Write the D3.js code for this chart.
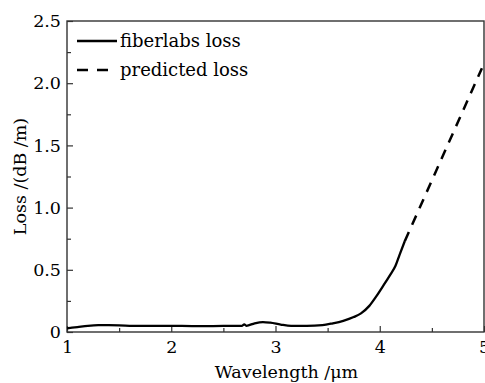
<!DOCTYPE html>
<html><head><meta charset="utf-8">
<script src="https://cdn.jsdelivr.net/npm/d3@7"></script>
<style>body{margin:0;background:#fff}svg{display:block}</style>
</head><body>
<script>
const measuredWl = [1.0,1.1,1.2,1.3,1.4,1.6,1.8,2.0,2.2,2.4,2.6,2.68,2.7,2.72,2.8,2.88,2.95,3.05,3.15,3.3,3.45,3.55,3.65,3.75,3.82,3.9,3.97,4.04,4.1,4.15,4.19,4.24];
const measuredLoss = [0.03,0.04,0.05,0.055,0.055,0.05,0.05,0.05,0.048,0.048,0.05,0.05,0.062,0.05,0.07,0.08,0.075,0.06,0.05,0.05,0.055,0.07,0.09,0.12,0.15,0.21,0.29,0.38,0.46,0.53,0.62,0.73];
const predictedWl = [4.24,4.98];
const predictedLoss = [0.73,2.12];
const xTicks = [1,2,3,4,5];
const yTicks = [0,0.5,1.0,1.5,2.0,2.5];
const yTickLabels = ["0","0.5","1.0","1.5","2.0","2.5"];
const legendLabels = ["fiberlabs loss","predicted loss"];

const W=485,H=383;
const m={l:67,r:1,t:21,b:51};
const svg=d3.select("body").append("svg").attr("width",W).attr("height",H);
const x=d3.scaleLinear().domain([1,5]).range([m.l,W-m.r]);
const y=d3.scaleLinear().domain([0,2.5]).range([H-m.b,m.t]);
const font="DejaVu Serif";
const ink="#000";

// frame
svg.append("rect").attr("x",x(1)).attr("y",y(2.5)).attr("width",x(5)-x(1)).attr("height",y(0)-y(2.5))
  .attr("fill","none").attr("stroke","#333").attr("stroke-width",1.4);

// x axis
const xa=svg.append("g").attr("transform",`translate(0,${y(0)})`)
  .call(d3.axisBottom(x).tickValues(xTicks).tickSize(-6).tickPadding(6).tickFormat(d3.format("d")));
xa.select(".domain").remove();
const xm=svg.append("g").attr("transform",`translate(0,${y(0)})`)
  .call(d3.axisBottom(x).tickValues([1.5,2.5,3.5,4.5]).tickSize(-4).tickFormat(""));
xm.select(".domain").remove();
// y axis
const ya=svg.append("g").attr("transform",`translate(${x(1)},0)`)
  .call(d3.axisLeft(y).tickValues(yTicks).tickSize(-6).tickPadding(6).tickFormat((d,i)=>yTickLabels[i]));
ya.select(".domain").remove();
const ym=svg.append("g").attr("transform",`translate(${x(1)},0)`)
  .call(d3.axisLeft(y).tickValues([0.25,0.75,1.25,1.75,2.25]).tickSize(-4).tickFormat(""));
ym.select(".domain").remove();
svg.selectAll(".tick line").attr("stroke","#333").attr("stroke-width",1.2);
svg.selectAll(".tick text").attr("font-family",font).attr("font-size",17.5).attr("fill",ink);
xa.selectAll(".tick text").attr("dy","0.85em");

// axis titles
svg.append("text").attr("x",(x(1)+x(5))/2+11).attr("y",H-5).attr("text-anchor","middle")
  .attr("font-family",font).attr("font-size",17.5).attr("fill",ink).text("Wavelength /μm");
svg.append("text").attr("transform",`translate(26,${(y(0)+y(2.5))/2}) rotate(-90)`).attr("text-anchor","middle")
  .attr("font-family",font).attr("font-size",17.5).attr("fill",ink).text("Loss /(dB /m)");

// lines
const line=d3.line().x(d=>x(d[0])).y(d=>y(d[1])).curve(d3.curveMonotoneX);
svg.append("path").datum(measuredWl.map((w,i)=>[w,measuredLoss[i]])).attr("d",line)
  .attr("fill","none").attr("stroke",ink).attr("stroke-width",2.3).attr("stroke-linejoin","round");
svg.append("path").datum(predictedWl.map((w,i)=>[w,predictedLoss[i]])).attr("d",d3.line().x(d=>x(d[0])).y(d=>y(d[1])))
  .attr("fill","none").attr("stroke",ink).attr("stroke-width",2.5).attr("stroke-dasharray","10,8");

// legend
const lg=svg.append("g");
lg.append("line").attr("x1",77).attr("x2",117).attr("y1",41).attr("y2",41).attr("stroke",ink).attr("stroke-width",2.3);
lg.append("line").attr("x1",77).attr("x2",117).attr("y1",70).attr("y2",70).attr("stroke",ink).attr("stroke-width",2.3).attr("stroke-dasharray","11,9");
lg.selectAll("text").data(legendLabels).join("text").attr("x",120).attr("y",(d,i)=>41+i*29).attr("dy","0.35em")
  .attr("font-family",font).attr("font-size",18).attr("fill",ink).text(d=>d);
</script>
</body></html>
